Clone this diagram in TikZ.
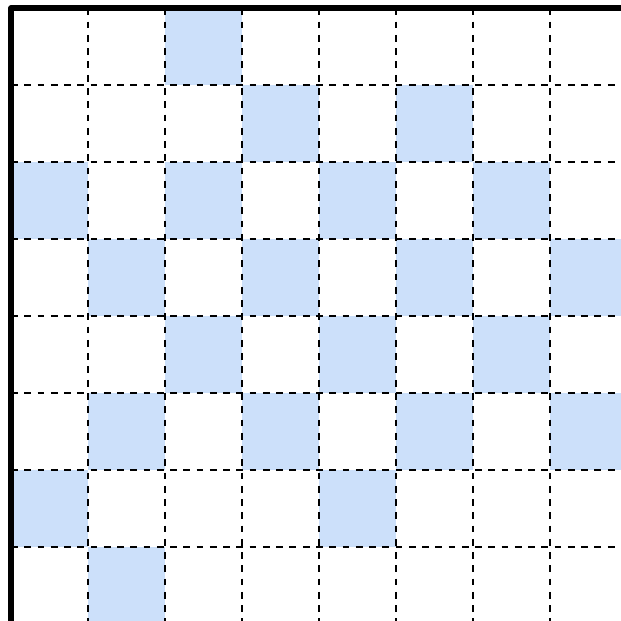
\documentclass[tikz,border=0pt]{standalone}
\definecolor{cellblue}{RGB}{204,224,250}
\tikzset{
  shaded/.style={fill=cellblue},
  gridline/.style={draw=black, line width=0.75pt, dash pattern=on 2.5pt off 2.4pt},
  frame/.style={draw=black, line width=2.2pt, line join=round}
}
\begin{document}
\begin{tikzpicture}[x=1cm,y=1cm]
\useasboundingbox (-0.143,0.045) rectangle (7.922,8.110);
\begin{scope}
\clip (-0.143,0.045) rectangle (7.922,8.110);
% shaded cells: {col/row-from-top}
\foreach \c/\r in {2/0, 3/1, 5/1, 0/2, 2/2, 4/2, 6/2, 1/3, 3/3, 5/3, 7/3,
                   2/4, 4/4, 6/4, 1/5, 3/5, 5/5, 7/5, 0/6, 4/6, 1/7}
  \fill[shaded] (\c,8-\r) rectangle (\c+1,7-\r);
% dashed grid lines
\foreach \c in {1,...,7}
  \path[gridline] (\c,8) -- (\c,0);
\foreach \r in {1,...,7}
  \path[gridline] (0,\r) -- (8,\r);
% frame
\coordinate (bl) at (0,-0.5);
\coordinate (tl) at (0,8);
\coordinate (tr) at (8.5,8);
\draw[frame] (bl) -- (tl) -- (tr);
\end{scope}
\end{tikzpicture}
\end{document}
